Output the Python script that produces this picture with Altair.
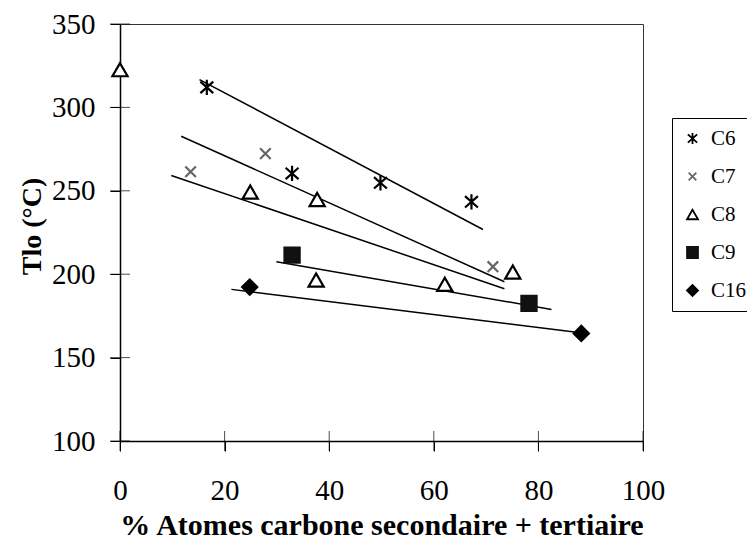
import altair as alt
import pandas as pd

# ---- data ----
series_names = ["C6", "C7", "C8", "C9", "C16"]

c6_x = [16.6, 32.9, 49.8, 67.2]
c6_y = [312.0, 260.4, 254.8, 243.4]
c7_x = [13.5, 27.8, 71.3]
c7_y = [261.4, 272.3, 204.5]
c8_x = [0.0, 24.9, 37.7, 37.5, 62.1, 75.1]
c8_y = [322.6, 249.2, 244.8, 196.5, 193.9, 201.3]
c9_x = [32.9, 78.2]
c9_y = [211.4, 182.5]
c16_x = [24.8, 88.2]
c16_y = [192.3, 164.5]

# trend lines (start / end points)
line_ids = ["L1", "L1", "L2", "L2", "L3", "L3", "L4", "L4", "L5", "L5"]
line_x = [15.2, 69.4, 11.7, 73.5, 9.8, 73.5, 29.9, 82.5, 21.3, 86.9]
line_y = [316.7, 226.8, 282.7, 195.5, 259.2, 191.3, 207.5, 178.9, 190.9, 165.3]

x_ticks = [0, 20, 40, 60, 80, 100]
y_ticks = [100, 150, 200, 250, 300, 350]

# ---- tables ----
rows = []
for name, xs, ys in [("C6", c6_x, c6_y), ("C7", c7_x, c7_y), ("C8", c8_x, c8_y),
                     ("C9", c9_x, c9_y), ("C16", c16_x, c16_y)]:
    for a, b in zip(xs, ys):
        rows.append({"serie": name, "x": a, "y": b})
pts = pd.DataFrame(rows)
lines = pd.DataFrame({"id": line_ids, "x": line_x, "y": line_y})
xt = pd.DataFrame({"v": x_ticks})
yt = pd.DataFrame({"v": y_ticks})

W, H = 523, 417
FONT = "'Liberation Serif', 'Times New Roman', Times, serif"

star = "M0,-1L0,1M-0.85,-0.75L0.85,0.75M-0.85,0.75L0.85,-0.75"
xmark = "M-0.7,-0.7L0.7,0.7M-0.7,0.7L0.7,-0.7"
shapes = [star, xmark, "triangle-up", "square", "diamond"]
fills = ["transparent", "transparent", "white", "#111111", "#000000"]
strokes = ["#000000", "#666666", "#000000", "#111111", "#000000"]

xscale = alt.Scale(domain=[0, 100], nice=False, zero=False)
yscale = alt.Scale(domain=[100, 350], nice=False, zero=False)

xaxis = alt.Axis(values=x_ticks, grid=False, labelFont=FONT, labelFontSize=29,
                 labelColor="black", tickColor="black", tickSize=10, tickWidth=1,
                 domainColor="black", domainWidth=1.5, labelPadding=25,
                 labelFlush=False, labelOverlap=False,
                 title="% Atomes carbone secondaire + tertiaire", titleFont=FONT,
                 titleFontWeight="bold", titleFontSize=30, titleColor="black",
                 titleY=93, titleBaseline="alphabetic")
yaxis = alt.Axis(values=y_ticks, grid=False, labelFont=FONT, labelFontSize=29,
                 labelColor="black", tickColor="black", tickSize=10, tickWidth=1,
                 domainColor="black", domainWidth=1.5, labelPadding=15,
                 labelFlush=False, labelOverlap=False,
                 title="Tlo (°C)", titleFont=FONT, titleFontWeight="bold",
                 titleFontSize=28, titleColor="black", titleX=-80, titleY=202,
                 titleAngle=270, titleBaseline="alphabetic", titleAlign="center")

line_layer = alt.Chart(lines).mark_line(color="black", strokeWidth=1.5).encode(
    x=alt.X("x:Q", scale=xscale, axis=xaxis),
    y=alt.Y("y:Q", scale=yscale, axis=yaxis),
    detail="id:N",
)

xtick_layer = alt.Chart(xt).mark_tick(color="black", size=20, thickness=1).encode(
    x=alt.X("v:Q", scale=xscale), y=alt.value(H)
)
ytick_layer = alt.Chart(yt).mark_tick(color="black", size=20, thickness=1).encode(
    y=alt.Y("v:Q", scale=yscale), x=alt.value(0)
)

legend = alt.Legend(title=None, orient="none", legendX=552, legendY=94,
                    strokeColor="black", fillColor="white", padding=10,
                    labelFont=FONT, labelFontSize=21, labelColor="black",
                    symbolSize=120, symbolStrokeWidth=1.8, rowPadding=16,
                    labelOffset=8, cornerRadius=0)

point_layer = alt.Chart(pts).mark_point(size=230, strokeWidth=2.2, opacity=1).encode(
    x=alt.X("x:Q", scale=xscale),
    y=alt.Y("y:Q", scale=yscale),
    shape=alt.Shape("serie:N", scale=alt.Scale(domain=series_names, range=shapes), legend=legend),
    fill=alt.Fill("serie:N", scale=alt.Scale(domain=series_names, range=fills), legend=legend),
    stroke=alt.Stroke("serie:N", scale=alt.Scale(domain=series_names, range=strokes), legend=legend),
)

chart = alt.layer(line_layer, xtick_layer, ytick_layer, point_layer).properties(
    width=W, height=H,
    padding={"left": 120, "top": 24, "right": 104, "bottom": 101},
    autosize=alt.AutoSizeParams(type="none"),
    background="white",
).configure_view(stroke="#333333", strokeWidth=1)

chart.save("out.html", embed_options={"renderer": "svg", "actions": False})
